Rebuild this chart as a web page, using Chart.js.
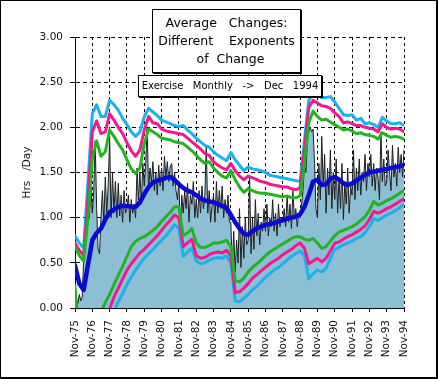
<!DOCTYPE html>
<html><head><meta charset="utf-8">
<script src="https://cdn.jsdelivr.net/npm/chart.js@4"></script>
<style>
html,body{margin:0;padding:0;background:#fff;}
#wrap{position:relative;width:439px;height:379px;overflow:hidden;background:#fff;}
#c{position:absolute;left:0;top:0;}
#frame{position:absolute;left:0;top:0;width:438px;height:379px;box-sizing:border-box;border-style:solid;border-color:#000;border-width:1px 2px 2px 1px;pointer-events:none;}
.box{position:absolute;box-sizing:border-box;background:#fff;border:1px solid #000;box-shadow:1px 1px 0 #000;font-family:"DejaVu Sans";color:#000;white-space:pre;text-align:center;}
#title{left:152px;top:9px;width:149px;height:64px;padding-top:4px;font-size:12.5px;line-height:18px;}
#sub{left:138px;top:75px;width:184px;height:22px;font-size:10px;line-height:20px;}
</style>
</head><body>
<div id="wrap">
<canvas id="c" width="439" height="379"></canvas>
<div class="box" id="title"><div>Average   Changes:</div><div>Different    Exponents</div><div>  of  Change</div></div>
<div class="box" id="sub">Exercise   Monthly   -&gt;   Dec   1994</div>
<div id="frame"></div>
</div>
<script>
const xTickLabels = ['Nov-75','Nov-76','Nov-77','Nov-78','Nov-79','Nov-80','Nov-81','Nov-82','Nov-83','Nov-84',
  'Nov-85','Nov-86','Nov-87','Nov-88','Nov-89','Nov-90','Nov-91','Nov-92','Nov-93','Nov-94'];
const yTickLabels = ['0.00','0.50','1.00','1.50','2.00','2.50','3.00'];

// monthly raw hours/day (month 0 = Nov-75)
const rawHours = [
  0.25,0.10,0.05,0.15,0.08,0.12,0.55,1.00,0.80,1.50,1.00,1.35,
  1.05,1.30,1.85,1.10,0.65,0.60,1.00,1.30,0.95,1.45,1.05,1.35,
  1.90,1.00,1.50,1.05,1.40,1.00,1.38,1.02,1.25,0.95,1.30,1.05,
  1.10,1.25,0.95,1.20,1.05,1.15,1.00,1.55,1.20,1.50,1.15,1.60,
  1.35,1.60,2.00,1.30,1.55,1.40,1.62,1.30,1.50,1.25,1.58,1.35,
  1.55,1.30,1.68,1.45,1.62,1.40,1.56,1.60,1.35,1.50,1.30,1.20,
  1.40,0.85,1.25,1.05,1.30,1.10,1.38,0.95,1.25,1.15,1.40,1.00,
  1.20,1.00,1.30,1.05,1.35,1.10,1.25,1.80,1.05,1.30,0.95,1.15,
  1.25,0.95,1.40,1.05,1.30,1.10,1.35,1.00,1.20,1.05,1.25,0.95,
  0.95,0.45,0.85,0.40,0.75,0.50,1.10,0.45,0.90,0.55,1.00,0.70,
  0.75,1.45,0.60,1.00,0.65,1.20,0.80,1.05,0.70,0.95,0.85,1.10,
  0.85,1.15,0.80,1.00,0.90,1.20,0.85,1.05,0.80,1.15,0.90,1.00,
  0.95,1.10,0.90,1.25,0.95,1.15,0.88,1.30,1.00,1.10,0.90,1.05,
  1.00,1.15,1.30,1.60,1.50,1.85,1.95,2.00,1.95,1.98,1.60,1.10,
  1.00,1.60,1.20,1.90,1.35,1.70,1.05,1.55,1.25,1.75,1.10,1.50,
  1.20,1.65,1.05,1.45,1.10,1.60,0.98,1.40,1.15,1.55,1.05,1.35,
  1.25,1.75,1.20,1.55,1.30,1.65,1.25,1.50,1.40,1.70,1.30,1.60,
  1.45,1.70,1.35,1.60,1.30,1.55,1.45,1.20,1.95,1.40,1.65,1.35,
  1.40,1.75,1.50,1.30,1.80,1.45,1.60,1.35,1.78,1.50,1.70,1.45,1.75
];
// band and average series, sampled every 3 months
const upperCyan = [
  0.80,0.72,0.66,1.40, 2.15,2.25,2.12,2.12, 2.30,2.25,2.19,2.10, 2.03,1.95,1.90,1.95,
  2.12,2.21,2.17,2.13, 2.08,2.06,2.04,2.02, 2.01,2.02,1.97,1.93, 1.88,1.84,1.80,1.78,
  1.73,1.69,1.66,1.63, 1.72,1.64,1.58,1.52, 1.56,1.54,1.53,1.52, 1.50,1.47,1.46,1.45,
  1.44,1.43,1.42,1.41, 1.40,1.85,2.30,2.37, 2.35,2.33,2.33,2.34, 2.28,2.21,2.14,2.13,
  2.14,2.08,2.10,2.04, 2.05,2.03,2.00,2.11, 2.07,2.04,2.04,2.05, 2.02];
const upperPink = [
  0.72,0.64,0.58,1.20, 1.95,2.07,1.93,1.95, 2.15,2.08,2.00,1.93, 1.83,1.74,1.68,1.75,
  1.97,2.12,2.05,2.04, 1.98,1.96,1.95,1.94, 1.93,1.92,1.88,1.84, 1.80,1.76,1.71,1.69,
  1.62,1.58,1.55,1.53, 1.60,1.52,1.46,1.42, 1.46,1.44,1.42,1.40, 1.39,1.37,1.36,1.35,
  1.34,1.34,1.32,1.31, 1.33,1.75,2.22,2.30, 2.27,2.24,2.23,2.21, 2.16,2.12,2.05,2.06,
  2.04,2.02,2.02,2.00, 1.99,1.98,1.95,2.04, 2.00,1.98,1.99,1.98, 1.95];
const upperGreen = [
  0.68,0.58,0.52,1.00, 1.65,1.85,1.68,1.73, 1.97,1.90,1.82,1.75, 1.64,1.54,1.49,1.55,
  1.82,1.98,1.95,1.92, 1.88,1.87,1.86,1.84, 1.83,1.82,1.78,1.74, 1.69,1.64,1.60,1.62,
  1.55,1.50,1.46,1.44, 1.52,1.42,1.34,1.28, 1.32,1.30,1.28,1.27, 1.27,1.26,1.25,1.24,
  1.23,1.24,1.22,1.22, 1.24,1.60,2.05,2.18, 2.12,2.08,2.09,2.06, 2.03,2.00,1.97,1.98,
  1.96,1.93,1.94,1.92, 1.91,1.90,1.87,1.94, 1.91,1.89,1.90,1.89, 1.87];
const average = [
  0.47,0.27,0.20,0.48, 0.75,0.83,0.88,0.98, 1.06,1.09,1.12,1.13, 1.13,1.12,1.12,1.17,
  1.26,1.34,1.39,1.41, 1.42,1.44,1.45,1.42, 1.37,1.33,1.30,1.28, 1.25,1.21,1.19,1.18,
  1.17,1.15,1.13,1.11, 1.03,0.95,0.88,0.82, 0.81,0.85,0.88,0.90, 0.92,0.93,0.94,0.96,
  0.97,0.99,1.00,1.01, 1.04,1.12,1.25,1.40, 1.42,1.36,1.37,1.43, 1.45,1.42,1.38,1.36,
  1.38,1.41,1.44,1.47, 1.50,1.51,1.52,1.53, 1.54,1.55,1.56,1.57, 1.58];
const lowerGreen = [
  0.25,-0.50,-0.90,-0.80, -0.60,-0.30,-0.05,0.06, 0.15,0.26,0.36,0.46, 0.57,0.68,0.74,0.77,
  0.79,0.82,0.86,0.90, 0.96,1.01,1.06,1.12, 1.12,0.80,0.83,0.88, 0.72,0.67,0.67,0.69,
  0.72,0.72,0.73,0.75, 0.68,0.30,0.29,0.33, 0.40,0.45,0.49,0.53, 0.58,0.62,0.65,0.68,
  0.71,0.74,0.77,0.79, 0.79,0.76,0.75,0.77, 0.72,0.66,0.68,0.74, 0.80,0.84,0.86,0.88,
  0.90,0.93,0.97,1.01, 1.08,1.18,1.14,1.16, 1.19,1.21,1.24,1.27, 1.30];
const lowerPink = [
  0.18,-0.60,-1.00,-1.00, -0.80,-0.55,-0.35,-0.15, -0.01,0.12,0.22,0.32, 0.42,0.49,0.55,0.61,
  0.65,0.70,0.75,0.80, 0.86,0.92,0.97,1.03, 1.00,0.68,0.72,0.76, 0.58,0.55,0.56,0.59,
  0.61,0.62,0.61,0.64, 0.58,0.17,0.18,0.22, 0.27,0.33,0.37,0.41, 0.45,0.49,0.52,0.55,
  0.59,0.62,0.65,0.69, 0.72,0.66,0.49,0.52, 0.55,0.51,0.55,0.63, 0.72,0.73,0.76,0.79,
  0.81,0.84,0.87,0.91, 0.98,1.07,1.05,1.07, 1.10,1.12,1.15,1.18, 1.21];
const lowerCyan = [
  0.12,-0.70,-1.10,-1.10, -1.00,-0.80,-0.60,-0.40, -0.22,-0.04,0.07,0.16, 0.26,0.34,0.42,0.49,
  0.55,0.60,0.65,0.70, 0.75,0.80,0.86,0.92, 0.88,0.57,0.62,0.66, 0.52,0.49,0.50,0.53,
  0.55,0.56,0.55,0.58, 0.50,0.08,0.07,0.11, 0.15,0.20,0.24,0.29, 0.34,0.38,0.42,0.45,
  0.49,0.53,0.57,0.60, 0.63,0.58,0.32,0.38, 0.42,0.40,0.44,0.55, 0.65,0.67,0.70,0.72,
  0.74,0.77,0.79,0.83, 0.90,0.99,0.97,1.00, 1.03,1.05,1.08,1.11, 1.15];

const rawMonths = rawHours.map((_, i) => i);
const bandMonths = upperCyan.map((_, i) => i * 3);
const pts = (xs, ys) => ys.map((y, i) => ({x: xs[i], y: y}));

const CYAN = '#1cb0ec', PINK = '#f5178e', GREEN = '#22b41e', BLUE = '#0a0ad2';
const FONT = 'DejaVu Sans';
const FILL = 'rgb(140,190,212)';

const ctx = document.getElementById('c').getContext('2d');

const band = (label, data, color, order) => ({
  label, data: pts(bandMonths, data), borderColor: color, backgroundColor: color,
  borderWidth: 3, fill: false, order
});

new Chart(ctx, {
  type: 'line',
  data: {
    datasets: [
      {label: 'Monthly', data: pts(rawMonths, rawHours), borderColor: '#1e1e1e', borderWidth: 1,
       backgroundColor: FILL, fill: 'origin', order: 10},
      band('Lower 3', lowerCyan, CYAN, 8),
      band('Lower 2', lowerPink, PINK, 7),
      band('Lower 1', lowerGreen, GREEN, 6),
      band('Upper 3', upperCyan, CYAN, 5),
      band('Upper 2', upperPink, PINK, 4),
      band('Upper 1', upperGreen, GREEN, 3),
      {label: 'Average', data: pts(bandMonths, average), borderColor: BLUE, backgroundColor: BLUE,
       borderWidth: 4.5, fill: false, order: 1}
    ]
  },
  options: {
    responsive: false,
    animation: false,
    events: [],
    elements: {
      point: {radius: 0},
      line: {tension: 0, borderJoinStyle: 'round', borderCapStyle: 'round'}
    },
    layout: {padding: {left: 0, top: 37, right: 35, bottom: 0}},
    plugins: {legend: {display: false}, tooltip: {enabled: false}},
    scales: {
      x: {
        type: 'linear', min: 0, max: 228,
        afterFit: (s) => { s.height = 71; },
        ticks: {
          stepSize: 12, autoSkip: false, maxRotation: 90, minRotation: 90, padding: 8,
          color: '#111', font: {family: FONT, size: 10.5},
          callback: (v) => xTickLabels[Math.round(v / 12)]
        },
        grid: {color: '#000', lineWidth: 1, tickLength: 4},
        border: {display: true, color: '#000', width: 1, dash: [3, 3]}
      },
      y: {
        min: 0, max: 3,
        afterFit: (s) => { s.width = 75; },
        ticks: {
          stepSize: 0.5, padding: 7, color: '#111', font: {family: FONT, size: 10.5},
          callback: (v) => yTickLabels[Math.round(v / 0.5)]
        },
        grid: {color: '#000', lineWidth: 1, tickLength: 5},
        border: {display: true, color: '#000', width: 1, dash: [4, 3]},
        title: {display: true, text: 'Hrs   /Day', color: '#111',
                font: {family: FONT, size: 10.5}, padding: {top: 21, bottom: 0}}
      }
    }
  }
});
</script>
</body></html>
